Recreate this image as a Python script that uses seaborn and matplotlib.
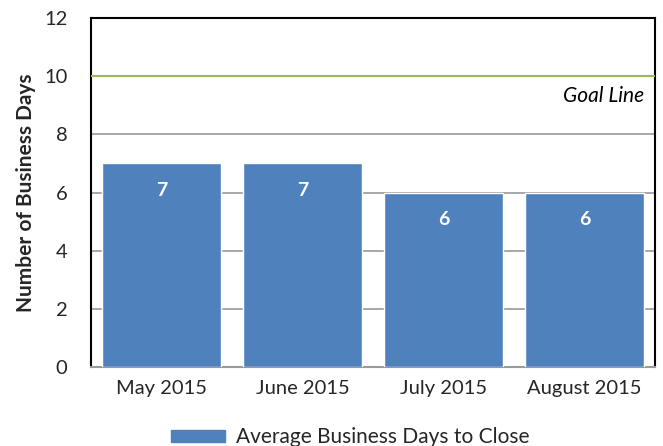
import pandas as pd
import matplotlib.pyplot as plt
import seaborn as sns
from matplotlib.patches import Patch

months = ["May 2015", "June 2015", "July 2015", "August 2015"]
avg_days = [7, 7, 6, 6]
goal = 10
series_name = "Average Business Days to Close"

df = pd.DataFrame({"month": months, "days": avg_days})

sns.set_style("white")
plt.rcParams['font.family'] = ['Lato', 'DejaVu Sans']

bar_color = "#4F81BD"

fig = plt.figure(figsize=(6.63, 4.46), dpi=100)
ax = fig.add_axes([0.1373, 0.177, 0.8507, 0.7826])

sns.barplot(data=df, x="month", y="days", color=bar_color, width=0.84,
            saturation=1, ax=ax, zorder=3)

# goal line
ax.axhline(goal, color="#9BBB59", linewidth=1.5, zorder=4)
ax.text(3.42, goal - 0.35, "Goal Line", ha="right", va="top",
        fontsize=15, style="italic", color="black")

# value labels
for i, v in enumerate(avg_days):
    ax.text(i, v - 0.93, str(v), ha="center", va="center",
            color="white", fontsize=14, fontweight="bold", zorder=5)

ax.set_ylim(0, 12)
ax.set_xlim(-0.5, 3.5)
ax.set_yticks(range(0, 13, 2))
for y in [2, 4, 6, 8]:
    ax.axhline(y, color="#9a9a9a", linewidth=1.2, zorder=1)

ax.tick_params(axis="y", labelsize=14.5, length=5, color="#9a9a9a", direction="out", pad=12)
ax.tick_params(axis="x", labelsize=14.5, length=0, pad=9)
ax.set_xlabel("")
ax.set_ylabel("Number of Business Days", fontsize=15, fontweight="bold", labelpad=6)

for side in ["left", "top", "right"]:
    ax.spines[side].set_color("black")
    ax.spines[side].set_linewidth(1.5)
ax.spines["bottom"].set_color("#9a9a9a")
ax.spines["bottom"].set_linewidth(1.5)

fig.legend(handles=[Patch(color=bar_color, label=series_name)],
           loc="lower center", bbox_to_anchor=(0.528, -0.045), frameon=False,
           fontsize=15, handlelength=2.6, handleheight=0.55, handletextpad=0.5)

fig.savefig("out.png", dpi=100)
